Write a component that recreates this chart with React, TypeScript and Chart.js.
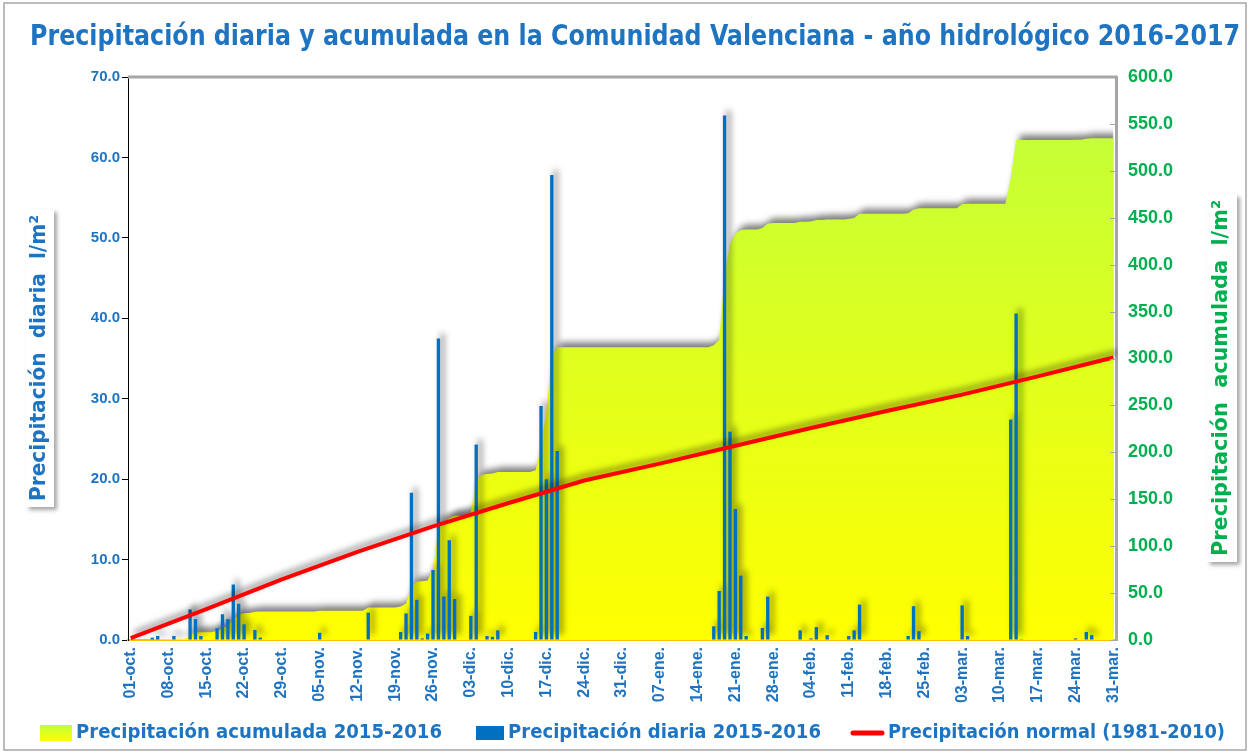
import React, { useEffect, useRef } from 'react';
import { Chart, registerables } from 'chart.js';

Chart.register(...registerables);

// ---------- data ----------
const monthNames = ['oct.', 'nov.', 'dic.', 'ene.', 'feb.', 'mar.'];
const monthLengths = [31, 30, 31, 31, 29, 31];
const labelStep = 7;

// daily precipitation (l/m2): day index (0 = 01-oct) and value
const rainDays = [4, 5, 8, 11, 12, 13, 16, 17, 18, 19, 20, 21, 23, 24, 35, 44, 50, 51, 52, 53, 54, 55, 56, 57, 58, 59, 60, 63, 64, 66, 67, 68, 75, 76, 77, 78, 79, 108, 109, 110, 111, 112, 113, 114, 117, 118, 124, 126, 127, 129, 133, 134, 135, 144, 145, 146, 154, 155, 163, 164, 165, 175, 177, 178];
const rainValues = [0.3, 0.5, 0.5, 3.8, 2.6, 0.5, 1.45, 3.2, 2.6, 6.9, 4.5, 1.95, 1.25, 0.3, 0.9, 3.4, 1.0, 3.3, 18.3, 5.0, 0.2, 0.8, 8.7, 37.5, 5.4, 12.4, 5.1, 3.0, 24.3, 0.5, 0.4, 1.2, 1.0, 29.1, 20.0, 57.8, 23.5, 1.7, 6.1, 65.2, 25.9, 16.3, 8.0, 0.5, 1.5, 5.4, 1.2, 0.2, 1.6, 0.6, 0.5, 1.2, 4.4, 0.5, 4.2, 1.1, 4.3, 0.5, 27.4, 40.6, 0.1, 0.2, 1.0, 0.6];

// accumulated precipitation (l/m2), one value per day
const cumulativeValues = [
  0, 0, 0, 0, 0.3, 0.8, 0.8, 0.8, 1.3, 1.3,
  1.3, 5.1, 7.7, 8.2, 8.2, 8.2, 9.7, 12.9, 15.5, 22.4,
  26.9, 28.9, 28.9, 30.1, 30.4, 30.4, 30.4, 30.4, 30.4, 30.4,
  30.4, 30.4, 30.4, 30.4, 30.4, 31.3, 31.3, 31.3, 31.3, 31.3,
  31.3, 31.3, 31.3, 31.3, 34.7, 34.7, 34.7, 34.7, 34.7, 34.7,
  35.7, 39, 57.3, 62.3, 62.5, 63.3, 76, 118, 125, 130,
  132.4, 132.4, 132.4, 136, 170, 176, 177, 177.5, 179, 179,
  179, 179, 179, 179, 179, 181, 205, 245, 303, 312,
  312, 312, 312, 312, 312, 312, 312, 312, 312, 312,
  312, 312, 312, 312, 312, 312, 312, 312, 312, 312,
  312, 312, 312, 312, 312, 312, 312, 312, 314, 320,
  388, 422, 433, 437, 437.5, 437.5, 437.5, 439, 444, 444.5,
  444.5, 444.5, 444.5, 444.5, 445.7, 445.7, 445.9, 447.5, 447.5, 448.1,
  448.1, 448.1, 448.1, 448.6, 449.8, 454.2, 454.2, 454.2, 454.2, 454.2,
  454.2, 454.2, 454.2, 454.2, 454.7, 458.9, 460, 460, 460, 460,
  460, 460, 460, 460, 464.3, 464.8, 464.8, 464.8, 464.8, 464.8,
  464.8, 464.8, 464.8, 492.2, 532.8, 532.9, 532.9, 532.9, 532.9, 532.9,
  532.9, 532.9, 532.9, 532.9, 532.9, 533.1, 533.1, 534.1, 534.7, 534.7,
  534.7, 534.7, 534.7,
];

// normal precipitation 1981-2010 (accumulated), read at the weekly ticks
const normalDays = [0, 14, 28, 42, 56, 70, 84, 98, 112, 126, 140, 154, 168, 182];
const normalValues = [2, 33, 64.5, 94, 121, 146, 170, 188, 207, 226, 244, 261.5, 281, 301];

const leftAxisMax = 70;
const leftAxisStep = 10;
const rightAxisMax = 600;
const rightAxisStep = 50;

const titleText = 'Precipitación diaria y acumulada en la Comunidad Valenciana - año hidrológico 2016-2017';
const leftAxisTitle = 'Precipitación  diaria  l/m²';
const rightAxisTitle = 'Precipitación  acumulada  l/m²';
const legendLabels = [
  'Precipitación acumulada 2015-2016',
  'Precipitación diaria 2015-2016',
  'Precipitación normal (1981-2010)',
];

// ---------- styles ----------
const BLUE_TEXT = '#1F74C2';
const GREEN_TEXT = '#00B050';
const BAR_BLUE = '#0070C0';
const RED = '#FF0000';
const NARROW = "'Liberation Sans Narrow', 'Arial Narrow', 'DejaVu Sans Condensed', sans-serif";
const ARIAL = "'Liberation Sans', Arial, sans-serif";

const dayLabels: string[] = [];
monthNames.forEach((m, mi) => {
  for (let d = 1; d <= monthLengths[mi]; d++) {
    dayLabels.push(String(d).padStart(2, '0') + '-' + m);
  }
});

const dailyData: (number | null)[] = dayLabels.map(() => null);
rainDays.forEach((d, i) => {
  dailyData[d] = rainValues[i];
});
const normalData: (number | null)[] = dayLabels.map(() => null);
normalDays.forEach((d, i) => {
  normalData[d] = normalValues[i];
});

function fitText(ctx: CanvasRenderingContext2D, text: string, x: number, y: number, width: number, font: string, color: string) {
  ctx.save();
  ctx.font = font;
  ctx.fillStyle = color;
  ctx.textBaseline = 'middle';
  ctx.textAlign = 'left';
  const w = ctx.measureText(text).width || 1;
  ctx.translate(x, y);
  ctx.scale(width / w, 1);
  ctx.fillText(text, 0, 0);
  ctx.restore();
}

function areaGradient(ctx: CanvasRenderingContext2D, top: number, bottom: number) {
  const g = ctx.createLinearGradient(0, bottom, 0, top);
  g.addColorStop(0, '#FFFF00');
  g.addColorStop(1, '#BEFF3C');
  return g;
}

const decorPlugin = {
  id: 'decor',
  beforeDatasetsDraw(chart: any) {
    const ctx = chart.ctx;
    ctx.save();
    ctx.shadowColor = 'rgba(0,0,0,0.5)';
    ctx.shadowBlur = 6;
    ctx.shadowOffsetX = 4;
    ctx.shadowOffsetY = -5;
  },
  afterDatasetsDraw(chart: any) {
    chart.ctx.restore();
  },
  afterDraw(chart: any) {
    const ctx: CanvasRenderingContext2D = chart.ctx;
    const area = chart.chartArea;

    // outer frame
    ctx.save();
    ctx.strokeStyle = '#A6A6A6';
    ctx.lineWidth = 1.5;
    ctx.strokeRect(4, 3, 1242, 747);
    ctx.restore();

    // top border of the plot area
    ctx.save();
    ctx.strokeStyle = '#A6A6A6';
    ctx.lineWidth = 3;
    ctx.beginPath();
    ctx.moveTo(area.left, area.top);
    ctx.lineTo(area.right + 1, area.top);
    ctx.stroke();
    ctx.restore();

    // inward tick marks on the right axis
    const y1 = chart.scales.y1;
    ctx.save();
    ctx.strokeStyle = '#A6A6A6';
    ctx.lineWidth = 1;
    y1.ticks.forEach((t: any) => {
      const py = Math.round(y1.getPixelForValue(t.value)) + 0.5;
      ctx.beginPath();
      ctx.moveTo(area.right - 6, py);
      ctx.lineTo(area.right, py);
      ctx.stroke();
    });
    ctx.restore();

    // title
    fitText(ctx, titleText, 30, 37, 1210, `bold 29px ${NARROW}`, BLUE_TEXT);

    // axis title boxes
    const drawAxisTitle = (text: string, cx: number, cy: number, len: number, boxW: number, boxH: number, color: string) => {
      ctx.save();
      ctx.shadowColor = 'rgba(0,0,0,0.35)';
      ctx.shadowBlur = 4;
      ctx.shadowOffsetX = 3;
      ctx.shadowOffsetY = 3;
      ctx.fillStyle = '#FFFFFF';
      ctx.fillRect(cx - boxW / 2, cy - boxH / 2, boxW, boxH);
      ctx.restore();
      ctx.save();
      ctx.translate(cx, cy);
      ctx.rotate(-Math.PI / 2);
      fitText(ctx, text, -len / 2, 0, len, `bold 21px ${NARROW}`, color);
      ctx.restore();
    };
    drawAxisTitle(leftAxisTitle, 40, 358, 286, 28, 298, BLUE_TEXT);
    drawAxisTitle(rightAxisTitle, 1222, 378, 356, 30, 368, GREEN_TEXT);

    // legend
    const ly = 733;
    ctx.save();
    ctx.fillStyle = areaGradient(ctx, ly - 8, ly + 8);
    ctx.fillRect(40, ly - 8, 32, 16);
    ctx.fillStyle = BAR_BLUE;
    ctx.fillRect(476, ly - 7, 28, 14);
    ctx.strokeStyle = RED;
    ctx.lineWidth = 5;
    ctx.lineCap = 'round';
    ctx.beginPath();
    ctx.moveTo(853, ly);
    ctx.lineTo(882, ly);
    ctx.stroke();
    ctx.restore();
    fitText(ctx, legendLabels[0], 76, ly, 366, `bold 20px ${NARROW}`, BLUE_TEXT);
    fitText(ctx, legendLabels[1], 508, ly, 313, `bold 20px ${NARROW}`, BLUE_TEXT);
    fitText(ctx, legendLabels[2], 888, ly, 337, `bold 20px ${NARROW}`, BLUE_TEXT);
  },
};

export default function App() {
  const canvasRef = useRef<HTMLCanvasElement | null>(null);

  useEffect(() => {
    if (!canvasRef.current) return;
    const chart = new Chart(canvasRef.current, {
      type: 'bar',
      data: {
        labels: dayLabels,
        datasets: [
          {
            type: 'line',
            label: legendLabels[2],
            data: normalData,
            yAxisID: 'y1',
            borderColor: RED,
            borderWidth: 4,
            pointRadius: 0,
            spanGaps: true,
            tension: 0,
            fill: false,
            order: 0,
          } as any,
          {
            type: 'bar',
            label: legendLabels[1],
            data: dailyData,
            yAxisID: 'y',
            backgroundColor: BAR_BLUE,
            borderWidth: 0,
            barPercentage: 0.62,
            categoryPercentage: 1.0,
            order: 1,
          } as any,
          {
            type: 'line',
            label: legendLabels[0],
            data: cumulativeValues,
            yAxisID: 'y1',
            fill: 'origin',
            backgroundColor: (c: any) => {
              const a = c.chart.chartArea;
              if (!a) return '#EEFF20';
              return areaGradient(c.chart.ctx, a.top, a.bottom);
            },
            borderColor: 'rgba(0,0,0,0)',
            borderWidth: 1,
            pointRadius: 0,
            tension: 0,
            order: 2,
          } as any,
        ],
      },
      options: {
        animation: false,
        responsive: false,
        maintainAspectRatio: false,
        layout: { padding: { top: 77, left: 0, right: 0, bottom: 0 } },
        plugins: {
          legend: { display: false },
          title: { display: false },
          tooltip: { enabled: false },
        },
        scales: {
          x: {
            type: 'category',
            offset: true,
            grid: { display: false, drawTicks: false },
            border: { color: '#FFC000', width: 2 },
            ticks: {
              autoSkip: false,
              maxRotation: 90,
              minRotation: 90,
              padding: 7,
              color: BLUE_TEXT,
              font: { family: ARIAL, size: 16, weight: 'bold' },
              callback: (_v: any, i: number) => (i % labelStep === 0 ? dayLabels[i] : ''),
            },
            afterFit: (s: any) => {
              s.height = 113;
            },
          },
          y: {
            position: 'left',
            min: 0,
            max: leftAxisMax,
            ticks: {
              stepSize: leftAxisStep,
              padding: 2,
              color: BLUE_TEXT,
              font: { family: ARIAL, size: 15, weight: 'bold' },
              callback: (v: any) => Number(v).toFixed(1),
            },
            grid: { drawOnChartArea: false, drawTicks: true, tickLength: 6, color: '#000000' },
            border: { color: '#000000', width: 1 },
            afterFit: (s: any) => {
              s.width = 128;
            },
          },
          y1: {
            position: 'right',
            min: 0,
            max: rightAxisMax,
            ticks: {
              stepSize: rightAxisStep,
              padding: 12,
              color: GREEN_TEXT,
              font: { family: ARIAL, size: 18, weight: 'bold' },
              callback: (v: any) => Number(v).toFixed(1),
            },
            grid: { drawOnChartArea: false, drawTicks: false },
            border: { color: '#A6A6A6', width: 3 },
            afterFit: (s: any) => {
              s.width = 133;
            },
          },
        },
      } as any,
      plugins: [decorPlugin as any],
    });
    return () => chart.destroy();
  }, []);

  return (
    <div style={{ position: 'absolute', left: 0, top: 0, width: 1249, height: 753, background: '#FFFFFF' }}>
      <canvas ref={canvasRef} width={1249} height={753} style={{ display: 'block' }} />
    </div>
  );
}
